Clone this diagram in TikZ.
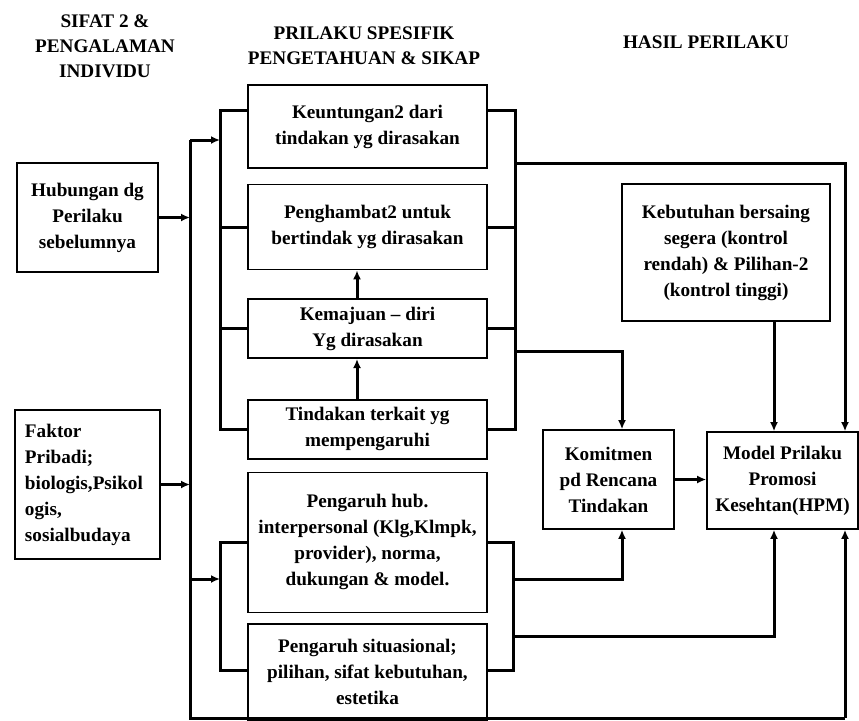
\documentclass[tikz,border=0pt]{standalone}
\usepackage{fontspec}
\setmainfont{Liberation Serif}
\usetikzlibrary{positioning,arrows.meta}

\begin{document}
\begin{tikzpicture}[x=0.5pt,y=-0.5pt,
    box/.style={draw,line width=0.8pt,align=center,inner sep=2pt,
                font=\bfseries\fontsize{9.6}{13}\selectfont},
    head/.style={align=center,font=\bfseries\fontsize{9.6}{12.5}\selectfont},
    wire/.style={line width=1.5pt},
    arr/.style={line width=1.5pt,-{Latex[length=4.5pt,width=4pt]}}]
  \useasboundingbox (0,0) rectangle (859,720);
  % column headings
  \node[head] (hsifat) at (105,46) {SIFAT 2 \&\\PENGALAMAN\\INDIVIDU};
  \node[head] (hprilaku) at (364,46) {PRILAKU SPESIFIK\\PENGETAHUAN \& SIKAP};
  \node[head] (hhasil) at (706,42) {HASIL PERILAKU};
  % left column
  \node[box,minimum width=70.5pt,minimum height=54.5pt] (hub) at (87.5,217.5)
    {Hubungan dg\\Perilaku\\sebelumnya};
  \node[box,align=left,text width=62.5pt,inner xsep=5pt,minimum height=74.5pt]
    (faktor) at (87.5,484.5)
    {Faktor\\Pribadi;\\biologis,Psikol\\ogis,\\sosialbudaya};
  % middle column
  \node[box,minimum width=119.5pt,minimum height=41.5pt] (untung) at (367.5,126.5)
    {Keuntungan2 dari\\tindakan yg dirasakan};
  \node[box,minimum width=119.5pt,minimum height=42.5pt,below=7.5pt of untung] (hambat)
    {Penghambat2 untuk\\bertindak yg dirasakan};
  \node[box,minimum width=119.5pt,minimum height=29.5pt,below=14pt of hambat] (maju)
    {Kemajuan -- diri\\Yg dirasakan};
  \node[box,minimum width=119.5pt,minimum height=29.5pt,below=20pt of maju] (tindak)
    {Tindakan terkait yg\\mempengaruhi};
  \node[box,minimum width=119.5pt,minimum height=70pt,below=6pt of tindak] (pengaruh)
    {Pengaruh hub.\\interpersonal (Klg,Klmpk,\\provider), norma,\\dukungan \& model.};
  \node[box,minimum width=119.5pt,minimum height=48pt,below=5pt of pengaruh] (situasi)
    {Pengaruh situasional;\\pilihan, sifat kebutuhan,\\estetika};
  % right column
  \node[box,minimum width=104pt,minimum height=68.5pt] (butuh) at (726,252.5)
    {Kebutuhan bersaing\\segera (kontrol\\rendah) \& Pilihan-2\\(kontrol tinggi)};
  \node[box,minimum width=65.5pt,minimum height=49.5pt] (komit) at (608.5,479.5)
    {Komitmen\\pd Rencana\\Tindakan};
  \node[box,minimum width=75.5pt,minimum height=48.5pt] (hpm) at (782.5,480.5)
    {Model Prilaku\\Promosi\\Kesehtan(HPM)};
  % bus points
  \coordinate (ltop) at (190,140);
  \coordinate (lbot) at (190,718);
  \coordinate (rbot) at (845,718);
  \coordinate (ui) at (220,110);
  \coordinate (li) at (220,579);
  \coordinate (ru) at (515,163);
  \coordinate (rk) at (515,351);
  \coordinate (rl) at (513,579);
  \coordinate (kin) at (622,351);
  \coordinate (hx) at (774,636);
  \coordinate (sl) at (0,670);
  \coordinate (ax) at (357,0);
  % left side
  \draw[wire] (ltop) -- (lbot) -- (rbot);
  \draw[arr] (rbot) -- (rbot |- hpm.south);
  \draw[arr] (hub.east) -- (hub.east -| ltop);
  \draw[arr] (faktor.east) -- (faktor.east -| ltop);
  \draw[arr] (ltop) -- (ltop -| ui);
  \draw[wire] (untung.west |- ui) -- (ui) |- (tindak.west);
  \draw[wire] (hambat.west -| ui) -- (hambat.west);
  \draw[wire] (maju.west -| ui) -- (maju.west);
  \draw[arr] (ltop |- li) -- (li);
  \draw[wire] (pengaruh.west) -| (li) |- (situasi.west |- sl);
  % middle stack
  \draw[arr] (tindak.north -| ax) -- (maju.south -| ax);
  \draw[arr] (maju.north -| ax) -- (hambat.south -| ax);
  % right side
  \draw[wire] (untung.east |- ui) -| (ru |- tindak.east) -- (tindak.east);
  \draw[wire] (hambat.east) -- (hambat.east -| ru);
  \draw[wire] (maju.east) -- (maju.east -| ru);
  \draw[arr] (ru) -| (hpm.north -| rbot);
  \draw[arr] (rk) -- (kin) -- (kin |- komit.north);
  \draw[arr] (butuh.south -| hx) -- (hpm.north -| hx);
  \draw[arr] (komit.east) -- (komit.east -| hpm.west);
  \draw[wire] (pengaruh.east) -| (rl) |- (situasi.east |- sl);
  \draw[arr] (rl) -| (komit.south -| kin);
  \draw[arr] (rl |- hx) -| (hpm.south -| hx);
\end{tikzpicture}
\end{document}
